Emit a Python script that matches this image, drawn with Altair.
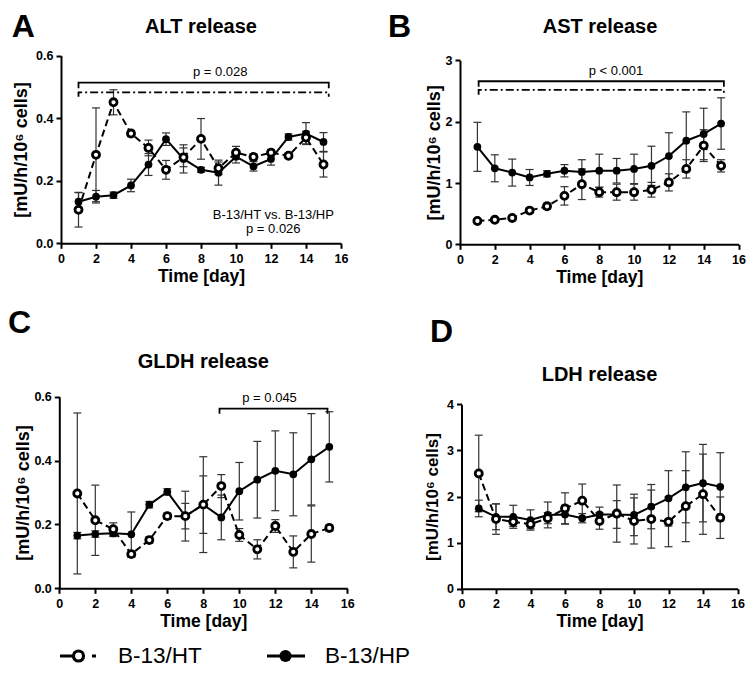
import altair as alt
import pandas as pd

FONT = "Liberation Sans"
W, H = 738, 660

days = list(range(1, 16))
x_ticks = list(range(0, 17, 2))
Y_TITLE = "[mU/h/10\u2076 cells]"
series_names = ["B-13/HT", "B-13/HP"]

# ---------------- ALT ----------------
alt_ht = [0.107, 0.283, 0.451, 0.351, 0.305, 0.235, 0.275, 0.334, 0.240, 0.290, 0.276, 0.290, 0.280, 0.338, 0.252]
alt_ht_err = [0.055, 0.150, 0.040, 0.010, 0.025, 0.030, 0.030, 0.065, 0.020, 0.020, 0.010, 0.010, 0.008, 0.020, 0.040]
alt_hp = [0.133, 0.149, 0.154, 0.185, 0.252, 0.333, 0.270, 0.235, 0.226, 0.277, 0.246, 0.270, 0.340, 0.351, 0.324]
alt_hp_err = [0.030, 0.020, 0.010, 0.020, 0.035, 0.020, 0.045, 0.008, 0.040, 0.020, 0.015, 0.020, 0.010, 0.035, 0.030]

# ---------------- AST ----------------
ast_ht = [0.38, 0.40, 0.43, 0.55, 0.62, 0.79, 0.98, 0.85, 0.85, 0.85, 0.89, 1.01, 1.23, 1.61, 1.28]
ast_ht_err = [0.03, 0.03, 0.04, 0.04, 0.05, 0.15, 0.25, 0.08, 0.13, 0.13, 0.12, 0.14, 0.15, 0.26, 0.10]
ast_hp = [1.59, 1.24, 1.17, 1.09, 1.15, 1.20, 1.18, 1.20, 1.20, 1.23, 1.28, 1.44, 1.69, 1.80, 1.97]
ast_hp_err = [0.40, 0.22, 0.22, 0.13, 0.05, 0.10, 0.20, 0.27, 0.20, 0.24, 0.32, 0.38, 0.47, 0.42, 0.42]

# ---------------- GLDH ----------------
gldh_ht = [0.297, 0.213, 0.185, 0.107, 0.151, 0.226, 0.226, 0.262, 0.320, 0.167, 0.122, 0.195, 0.114, 0.170, 0.189]
gldh_ht_err = [0.252, 0.110, 0.020, 0.010, 0.010, 0.010, 0.040, 0.090, 0.036, 0.020, 0.030, 0.020, 0.050, 0.088, 0.010]
gldh_hp = [0.165, 0.170, 0.172, 0.169, 0.262, 0.302, 0.226, 0.262, 0.222, 0.304, 0.340, 0.368, 0.357, 0.404, 0.443]
gldh_hp_err = [0.010, 0.010, 0.010, 0.070, 0.010, 0.010, 0.078, 0.150, 0.070, 0.090, 0.120, 0.125, 0.130, 0.143, 0.110]

# ---------------- LDH ----------------
ldh_ht = [2.50, 1.51, 1.45, 1.40, 1.53, 1.74, 1.91, 1.47, 1.63, 1.47, 1.51, 1.45, 1.79, 2.05, 1.54]
ldh_ht_err = [0.83, 0.33, 0.10, 0.10, 0.12, 0.34, 0.36, 0.18, 0.62, 0.50, 0.63, 0.54, 0.77, 0.87, 0.45]
ldh_hp = [1.74, 1.56, 1.56, 1.49, 1.60, 1.61, 1.53, 1.61, 1.61, 1.60, 1.78, 1.96, 2.20, 2.29, 2.21]
ldh_hp_err = [0.18, 0.28, 0.25, 0.22, 0.28, 0.20, 0.10, 0.16, 0.30, 0.45, 0.48, 0.60, 0.77, 0.84, 0.74]

# significance annotations (data units)
alt_brackets = [(1.0, 15.3, 0.514, 0.018, "solid"), (1.0, 15.3, 0.483, 0.014, "dashdot")]
alt_texts = [(9.1, 0.535, "p = 0.028"), (12.13, 0.077, "B-13/HT vs. B-13/HP"), (12.13, 0.032, "p = 0.026")]
ast_brackets = [(1.07, 15.16, 2.66, 0.09, "solid"), (1.07, 15.16, 2.52, 0.08, "dashdot")]
ast_texts = [(8.96, 2.76, "p < 0.001")]
gldh_brackets = [(8.9, 14.9, 0.5625, 0.016, "solid")]
gldh_texts = [(11.68, 0.583, "p = 0.045")]
ldh_brackets = []
ldh_texts = []


def long_df(ht, hte, hp, hpe):
    rows = []
    for s, m, e in ((series_names[0], ht, hte), (series_names[1], hp, hpe)):
        for d, v, er in zip(days, m, e):
            rows.append({"day": d, "mean": v, "lo": v - er, "hi": v + er, "series": s})
    return pd.DataFrame(rows)


def panel(letter, title, data, brackets, texts, xr, yr, ydom, yticks, yfmt,
          ytx, ytsize, letter_xy, title_xy, legend=False):
    xs = alt.Scale(domain=[0, 16], range=xr, nice=False, zero=False)
    ys = alt.Scale(domain=ydom, range=yr, nice=False, zero=False)
    xax = alt.Axis(orient="bottom", values=x_ticks, offset=yr[0] - H, title="Time [day]",
                   titleY=38, titleBaseline="alphabetic", titleFontSize=17.5,
                   labelFlush=False, labelOverlap=False, labelPadding=4)
    yax = alt.Axis(orient="left", values=yticks, format=yfmt, offset=-xr[0], title=Y_TITLE,
                   titleX=ytx, titleAngle=270, titleAlign="center", titleBaseline="middle",
                   titleFontSize=ytsize, labelFlush=False, labelOverlap=False, labelPadding=3)

    def X(f):
        return alt.X(f, type="quantitative", scale=xs, axis=xax)

    def Y(f):
        return alt.Y(f, type="quantitative", scale=ys, axis=yax)

    df = long_df(*data)
    ht = df[df.series == series_names[0]]
    hp = df[df.series == series_names[1]]
    base = alt.Chart(df)
    layers = [
        base.mark_rule(color="#333", strokeWidth=1.2).encode(x=X("day"), y=Y("lo"), y2=alt.Y2("hi")),
        base.mark_tick(orient="horizontal", size=8, thickness=1.2, color="#333", opacity=1).encode(x=X("day"), y=Y("lo")),
        base.mark_tick(orient="horizontal", size=8, thickness=1.2, color="#333", opacity=1).encode(x=X("day"), y=Y("hi")),
        alt.Chart(hp).mark_line(color="black", strokeWidth=2).encode(x=X("day"), y=Y("mean")),
        alt.Chart(ht).mark_line(color="black", strokeWidth=2, strokeDash=[7, 4]).encode(x=X("day"), y=Y("mean")),
        alt.Chart(hp).mark_circle(size=60, color="black", opacity=1).encode(x=X("day"), y=Y("mean")),
        alt.Chart(ht).mark_circle(size=50, fill="white", stroke="black", strokeWidth=2.8, opacity=1).encode(x=X("day"), y=Y("mean")),
    ]
    for (x0, x1, lev, drop, style) in brackets:
        bdf = pd.DataFrame({"x": [x0, x0, x1, x1], "y": [lev - drop, lev, lev, lev - drop], "i": [0, 1, 2, 3]})
        dash = [1, 0] if style == "solid" else [8, 3, 2, 3]
        layers.append(alt.Chart(bdf).mark_line(color="black", strokeWidth=1.8, strokeDash=dash)
                      .encode(x=X("x"), y=Y("y"), order=alt.Order("i:Q")))
    if texts:
        tdf = pd.DataFrame({"x": [t[0] for t in texts], "y": [t[1] for t in texts], "t": [t[2] for t in texts]})
        layers.append(alt.Chart(tdf).mark_text(font=FONT, fontSize=13, align="center", baseline="alphabetic", color="black")
                      .encode(x=X("x"), y=Y("y"), text="t:N"))
    layers.append(alt.Chart(pd.DataFrame({"t": [letter]})).mark_text(
        font=FONT, fontSize=32, fontWeight="bold", align="left", baseline="alphabetic", color="black")
        .encode(x=alt.value(letter_xy[0]), y=alt.value(letter_xy[1]), text="t:N"))
    layers.append(alt.Chart(pd.DataFrame({"t": [title]})).mark_text(
        font=FONT, fontSize=20, fontWeight="bold", align="center", baseline="alphabetic", color="black")
        .encode(x=alt.value(title_xy[0]), y=alt.value(title_xy[1]), text="t:N"))
    if legend:
        ly = 648
        lb = 655
        lg = pd.DataFrame({"t": series_names})
        layers += [
            alt.Chart(lg.iloc[[0]]).mark_rule(color="black", strokeWidth=3, strokeDash=[13, 19, 4, 10])
            .encode(x=alt.value(52), x2=alt.value(89), y=alt.value(ly)),
            alt.Chart(lg.iloc[[0]]).mark_circle(size=100, fill="white", stroke="black", strokeWidth=3.2, opacity=1)
            .encode(x=alt.value(70.5), y=alt.value(ly)),
            alt.Chart(lg.iloc[[0]]).mark_text(font=FONT, fontSize=22.5, align="left", baseline="alphabetic", color="black")
            .encode(x=alt.value(110), y=alt.value(lb), text="t:N"),
            alt.Chart(lg.iloc[[1]]).mark_rule(color="black", strokeWidth=3)
            .encode(x=alt.value(259), x2=alt.value(297), y=alt.value(ly)),
            alt.Chart(lg.iloc[[1]]).mark_circle(size=150, color="black", opacity=1)
            .encode(x=alt.value(277.5), y=alt.value(ly)),
            alt.Chart(lg.iloc[[1]]).mark_text(font=FONT, fontSize=22.5, align="left", baseline="alphabetic", color="black")
            .encode(x=alt.value(317), y=alt.value(lb), text="t:N"),
        ]
    return alt.layer(*layers)


pA = panel("A", "ALT release", (alt_ht, alt_ht_err, alt_hp, alt_hp_err), alt_brackets, alt_texts,
           [53, 333], [235.3, 47.7], [0, 0.6], [0, 0.2, 0.4, 0.6], ".1f", -40, 18, (3.7, 29), (193, 25))
pB = panel("B", "AST release", (ast_ht, ast_ht_err, ast_hp, ast_hp_err), ast_brackets, ast_texts,
           [452, 730.5], [236.3, 52.4], [0, 3], [0, 1, 2, 3], "d", -26, 18, (380, 29), (592, 25))
pC = panel("C", "GLDH release", (gldh_ht, gldh_ht_err, gldh_hp, gldh_hp_err), gldh_brackets, gldh_texts,
           [51.3, 339.3], [580.3, 388.7], [0, 0.6], [0, 0.2, 0.4, 0.6], ".1f", -35.5, 18, (0, 325), (195.3, 360),
           legend=True)
pD = panel("D", "LDH release", (ldh_ht, ldh_ht_err, ldh_hp, ldh_hp_err), ldh_brackets, ldh_texts,
           [453.5, 729.5], [580.7, 396.3], [0, 4], [0, 1, 2, 3, 4], "d", -29, 17, (422, 334), (591.5, 373))

chart = (
    alt.layer(pA, pB, pC, pD)
    .resolve_scale(x="independent", y="independent")
    .resolve_axis(x="independent", y="independent")
    .properties(width=W, height=H, autosize=alt.AutoSizeParams(type="none"), padding=0)
    .configure_view(stroke=None)
    .configure_axis(domainColor="black", domainWidth=2, tickColor="black", tickWidth=2, tickSize=5,
                    labelFont=FONT, labelFontSize=12.5, labelFontWeight="bold", labelColor="black",
                    titleFont=FONT, titleFontWeight="bold", titleColor="black", grid=False)
)

chart.save("out.html", embed_options={"renderer": "svg", "actions": False})
